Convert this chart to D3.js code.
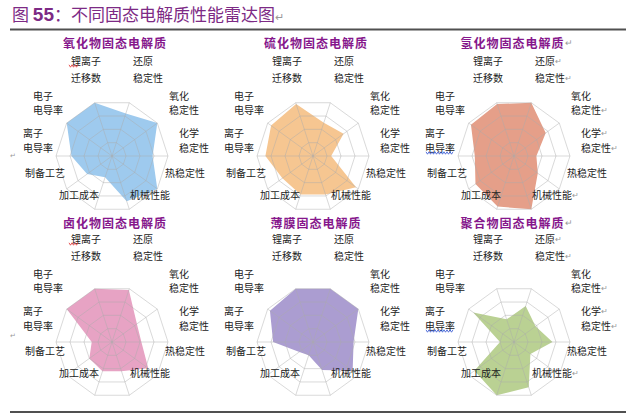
<!DOCTYPE html>
<html>
<head>
<meta charset="utf-8">
<script src="https://cdn.jsdelivr.net/npm/d3@7"></script>
<style>
  body { margin: 0; background: #fff; }
  text { font-family: "Noto Sans CJK SC", "Noto Sans", sans-serif; }
</style>
</head>
<body>
<svg id="chart" width="640" height="416"></svg>
<script>
// axes, clockwise from the top-left spoke
const axes = ['锂离子迁移数', '还原稳定性', '氧化稳定性', '化学稳定性', '热稳定性',
              '机械性能', '加工成本', '制备工艺', '离子电导率', '电子电导率'];
const axisLines = [['锂离子', '迁移数'], ['还原', '稳定性'], ['氧化', '稳定性'], ['化学', '稳定性'],
                   ['热稳定性'], ['机械性能'], ['加工成本'], ['制备工艺'], ['离子', '电导率'], ['电子', '电导率']];
const levels = [1, 2, 3, 4];

const titles = ['氧化物固态电解质', '硫化物固态电解质', '氢化物固态电解质',
                '卤化物固态电解质', '薄膜固态电解质', '聚合物固态电解质'];
// scores on a 0-4 scale, same order as axes
const oxide   = [4, 3.2, 4, 2.9, 4, 3.4, 1.6, 2.2, 2.9, 4];
const sulfide = [3.9, 2.5, 2.7, 1.3, 3.8, 2.9, 2.9, 2.7, 3.4, 3.7];
const hydride = [3.9, 4, 2.8, 1.6, 2.1, 4, 3.8, 3.4, 2.8, 3.8];
const halide  = [4, 3.9, 2.2, 2.1, 3.2, 2.2, 2.2, 2.0, 1.45, 4];
const film    = [4, 4, 4, 2.9, 3.5, 2.1, 1.0, 1.2, 2.85, 3.8];
const polymer = [1.7, 2.7, 1.9, 2.75, 1.45, 3.4, 4, 3.5, 1.0, 3.6];
const series = [oxide, sulfide, hydride, halide, film, polymer];
const colors = ['#9ecaee', '#f6c691', '#e59f89', '#e7a3c4', '#ab9dd1', '#bad193'];

const svg = d3.select('#chart');
svg.append('rect').attr('width', 640).attr('height', 416).attr('fill', '#fff');

// header
const purple = '#7d2a85';
const head = svg.append('text').attr('x', 12).attr('y', 21).attr('fill', purple).style('font-size', '17px');
head.append('tspan').text('图 ');
head.append('tspan').text('55').style('font-family', '"Liberation Sans", Arial, sans-serif')
    .style('font-weight', 'bold').style('font-size', '19px');
head.append('tspan').text('：不同固态电解质性能雷达图');
head.append('tspan').text('↵').attr('fill', '#999').style('font-size', '11px');

svg.append('line').attr('x1', 10).attr('x2', 626).attr('y1', 29.5).attr('y2', 29.5)
    .attr('stroke', '#505050').attr('stroke-width', 2);
svg.append('line').attr('x1', 10).attr('x2', 626).attr('y1', 412).attr('y2', 412)
    .attr('stroke', '#505050').attr('stroke-width', 2);

const R = 56;
const r = d3.scaleLinear().domain([0, 4]).range([0, R]);
const ang = d3.scaleLinear().domain([0, axes.length]).range([-Math.PI / 10, 2 * Math.PI - Math.PI / 10]);

const radar = d3.lineRadial()
    .angle((d, i) => ang(i))
    .radius(d => r(d))
    .curve(d3.curveLinearClosed);

const colX = [112, 313, 514];
const rowY = [156, 342];
const rowShift = [0, -8];
// label anchor (left x, centre y of first line) relative to the centre, and line gap
const labelPos = [[-41, -96, 17], [21, -96, 17], [57, -61, 14], [67, -24, 15], [53, 16, 0],
                  [18, 38, 0], [-53, 38, 0], [-87, 16, 0], [-89, -24, 15], [-79, -61, 14]];

function wavy(g, x1, x2, y, color) {
  const pts = d3.range(x1, x2 + 0.1, 1.5).map((x, i) => [x, y + (i % 2 ? 1.2 : -1.2)]);
  g.append('path').attr('d', d3.line()(pts)).attr('fill', 'none')
      .attr('stroke', color).attr('stroke-width', 0.8);
}

series.forEach((vals, i) => {
  const col = i % 3, row = Math.floor(i / 3);
  const cx = colX[col], cy = rowY[row];
  const g = svg.append('g');
  const c = g.append('g').attr('transform', `translate(${cx},${cy})`);

  c.append('path').attr('d', radar(vals)).attr('fill', colors[i]);

  c.selectAll('.ring').data(levels).enter().append('path')
      .attr('d', d => radar(axes.map(() => d)))
      .attr('fill', 'none').attr('stroke', '#aaaaaa').attr('stroke-opacity', 0.45).attr('stroke-width', 1);
  c.selectAll('.spoke').data(axes).enter().append('line')
      .attr('x1', 0).attr('y1', 0)
      .attr('x2', (d, k) => r(4) * Math.sin(ang(k)))
      .attr('y2', (d, k) => -r(4) * Math.cos(ang(k)))
      .attr('stroke', '#aaaaaa').attr('stroke-opacity', 0.45).attr('stroke-width', 1);

  const mark = col === 2;
  const t = g.append('text').attr('x', cx + 3).attr('y', cy + (row ? -120 : -114))
      .attr('text-anchor', 'middle').attr('dominant-baseline', 'central')
      .attr('fill', '#86178c').style('font-size', '12px').style('font-weight', 'bold')
      .style('letter-spacing', '1px');
  t.append('tspan').text(titles[i]);
  if (mark) t.append('tspan').text('↵').attr('fill', '#999').style('font-weight', 'normal').style('font-size', '9px');

  axisLines.forEach((lines, k) => {
    const [dx, dy, gap] = labelPos[k];
    lines.forEach((s, j) => {
      const tx = g.append('text').attr('x', cx + dx).attr('y', cy + rowShift[row] + dy + j * gap)
          .attr('dominant-baseline', 'central').attr('fill', '#222').style('font-size', '10px');
      tx.append('tspan').text(s);
      if (mark && [1, 2, 3, 5].includes(k) && (k !== 2 || j === 1))
        tx.append('tspan').text('↵').attr('fill', '#999').style('font-size', '8px');
    });
  });

  if (col === 0) {
    wavy(g, cx - 43, cx - 33, cy + rowShift[row] - 90, '#e03030');
    g.append('text').attr('x', 10).attr('y', cy + (row ? -4 : 2)).attr('fill', '#999')
        .style('font-size', '7px').text('↵');
  }
  if (col === 2) wavy(g, cx - 88, cx - 60, cy + rowShift[row] - 3, '#3050d0');
});
</script>
</body>
</html>
